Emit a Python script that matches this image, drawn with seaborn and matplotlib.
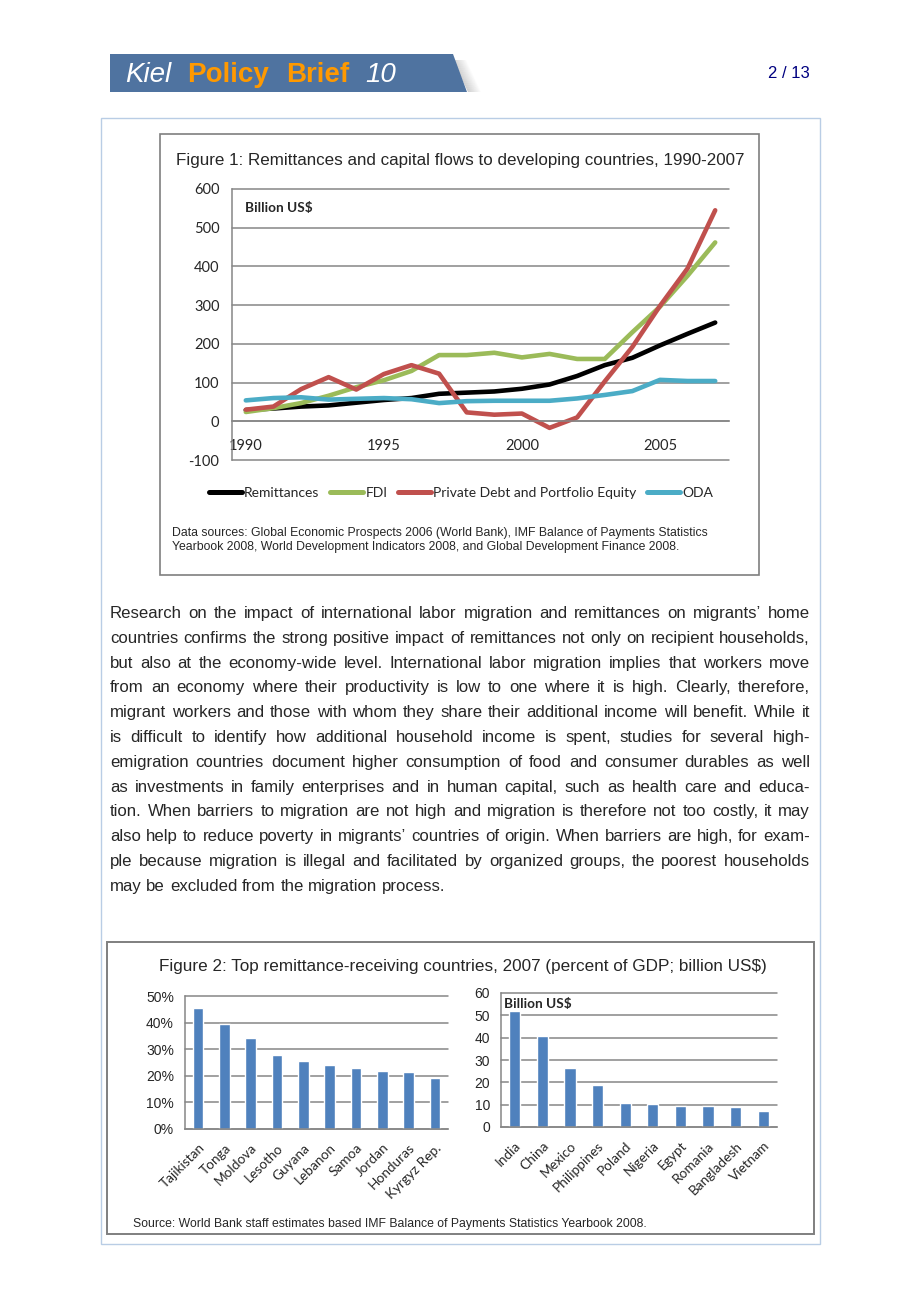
import numpy as np
import pandas as pd
import matplotlib
matplotlib.use("Agg")
import matplotlib.pyplot as plt
import seaborn as sns
from matplotlib.patches import Rectangle, Polygon
from matplotlib.lines import Line2D
from matplotlib.ticker import NullFormatter, FuncFormatter

# ---- data ----
years = list(range(1990, 2008))
series_names = ["Remittances", "FDI", "Private Debt and Portfolio Equity", "ODA"]
remittances = [29, 33, 38, 41, 48, 55, 60, 71, 74, 77, 84, 95, 117, 145, 164, 196, 226, 255]
fdi = [24, 34, 47, 66, 88, 106, 130, 171, 171, 177, 165, 174, 161, 161, 230, 296, 376, 462]
private_debt = [30, 38, 83, 114, 82, 122, 145, 123, 23, 17, 20, -17, 10, 103, 192, 298, 395, 545]
oda = [54, 60, 62, 56, 58, 60, 57, 47, 52, 53, 53, 53, 59, 68, 78, 107, 104, 104]
year_ticks = [1990, 1995, 2000, 2005]

countries_pct = ["Tajikistan", "Tonga", "Moldova", "Lesotho", "Guyana", "Lebanon",
                 "Samoa", "Jordan", "Honduras", "Kyrgyz Rep."]
pct_gdp = [45.5, 39.6, 34.1, 27.8, 25.7, 23.9, 22.9, 21.8, 21.4, 19.1]
countries_bn = ["India", "China", "Mexico", "Philippines", "Poland", "Nigeria",
                "Egypt", "Romania", "Bangladesh", "Vietnam"]
billion_usd = [52.0, 40.6, 26.3, 18.6, 10.9, 10.1, 9.4, 9.4, 9.1, 7.2]

paragraph = [
    "Research on the impact of international labor migration and remittances on migrants\u2019 home",
    "countries confirms the strong positive impact of remittances not only on recipient households,",
    "but also at the economy-wide level. International labor migration implies that workers move",
    "from an economy where their productivity is low to one where it is high. Clearly, therefore,",
    "migrant workers and those with whom they share their additional income will benefit. While it",
    "is difficult to identify how additional household income is spent, studies for several high-",
    "emigration countries document higher consumption of food and consumer durables as well",
    "as investments in family enterprises and in human capital, such as health care and educa-",
    "tion. When barriers to migration are not high and migration is therefore not too costly, it may",
    "also help to reduce poverty in migrants\u2019 countries of origin. When barriers are high, for exam-",
    "ple because migration is illegal and facilitated by organized groups, the poorest households",
    "may be excluded from the migration process.",
]

line_colors = ["#000000", "#9BBB59", "#C0504D", "#4BACC6"]
bar_color = "#4F81BD"
axis_gray = "#868686"

W, H = 920, 1302
sns.set_style("white")
plt.rcParams["font.family"] = ["Liberation Sans", "DejaVu Sans"]
plt.rcParams["axes.unicode_minus"] = False

fig = plt.figure(figsize=(W / 100, H / 100), dpi=100)
bg = fig.add_axes([0, 0, 1, 1])
bg.set_xlim(0, W)
bg.set_ylim(H, 0)
bg.axis("off")


def px_axes(x0, y0, x1, y1):
    a = fig.add_axes([x0 / W, 1 - y1 / H, (x1 - x0) / W, (y1 - y0) / H])
    a.patch.set_alpha(0)
    return a


def frame(x0, y0, x1, y1, color, lw):
    bg.add_patch(Rectangle((x0, y0), x1 - x0, y1 - y0, fill=False, ec=color, lw=lw))


# ---- page furniture ----
frame(101, 118, 820, 1244, "#B9CDE5", 1.0)
frame(160, 134, 759, 575, "#7F7F7F", 1.2)
frame(107, 942, 814, 1234, "#7F7F7F", 1.4)

# header banner with soft shadow on the slanted edge
for k in range(1, 14):
    bg.add_patch(Polygon([(452 + k, 60), (453 + k, 60), (468 + k, 92), (467 + k, 92)],
                         fc="#555555", ec="none", alpha=0.3 * (1 - k / 14)))
bg.add_patch(Polygon([(110, 54), (453, 54), (467, 92), (110, 92)], fc="#4F73A0", ec="none"))
bg.text(125, 82, "Kiel", color="white", fontsize=20, style="italic", va="baseline")
bg.text(187, 82, "Policy", color="#FF9900", fontsize=20, weight="bold", va="baseline")
bg.text(286, 82, "Brief", color="#FF9900", fontsize=20, weight="bold", va="baseline")
bg.text(365, 82, "10", color="white", fontsize=20, style="italic", va="baseline")
bg.text(810, 74, "2 / 13", color="#000080", fontsize=12, ha="right", va="center")

# ---- Figure 1 ----
bg.text(176, 160, "Figure 1: Remittances and capital flows to developing countries, 1990-2007",
        fontsize=12.25, va="center")

ax1 = px_axes(232, 189, 729, 460)
df1 = pd.DataFrame({
    "year": years * 4,
    "series": np.repeat(series_names, len(years)),
    "value": remittances + fdi + private_debt + oda,
})
sns.lineplot(data=df1, x="year", y="value", hue="series", hue_order=series_names,
             palette=dict(zip(series_names, line_colors)), linewidth=3.3,
             ax=ax1, legend=False, solid_capstyle="round", solid_joinstyle="round")
ax1.set_xlim(1989.5, 2007.5)
ax1.set_ylim(-100, 600)
ax1.set_yticks(range(-100, 601, 100))
ax1.set_xticks(np.arange(1989.5, 2008, 1))
ax1.xaxis.set_major_formatter(NullFormatter())
ax1.set_xticks(year_ticks, minor=True)
ax1.set_xticklabels([str(y) for y in year_ticks], minor=True)
ax1.tick_params(axis="x", which="major", direction="out", length=4, width=1.1, color=axis_gray)
ax1.tick_params(axis="x", which="minor", length=0, pad=13, labelsize=10.5, labelfontfamily="Lato")
ax1.tick_params(axis="y", direction="out", length=4, width=1.1, color=axis_gray, pad=5,
                labelsize=10.5, labelfontfamily="Lato")
ax1.grid(axis="y", color=axis_gray, lw=1.1)
for gl in ax1.get_ygridlines():
    gl.set_clip_on(False)
ax1.set_axisbelow(True)
ax1.spines["top"].set_visible(False)
ax1.spines["right"].set_visible(False)
ax1.spines["bottom"].set_position(("data", 0))
for s in ("left", "bottom"):
    ax1.spines[s].set_color(axis_gray)
    ax1.spines[s].set_linewidth(1.1)
ax1.set_xlabel("")
ax1.set_ylabel("")
bg.text(245, 208, "Billion US$", family="Lato", weight="bold", fontsize=9.8, va="center")

handles = [Line2D([], [], color=c, lw=3.6, solid_capstyle="round") for c in line_colors]
ax1.legend(handles, series_names, loc="center", bbox_to_anchor=(461 / W, 1 - 493 / H),
           bbox_transform=fig.transFigure, ncol=4, frameon=False, handlelength=2.4,
           handletextpad=0.15, columnspacing=0.75, prop={"family": "Lato", "size": 10})

bg.text(172, 533, "Data sources: Global Economic Prospects 2006 (World Bank), IMF Balance of Payments Statistics",
        fontsize=8.85, va="center")
bg.text(172, 547, "Yearbook 2008, World Development Indicators 2008, and Global Development Finance 2008.",
        fontsize=8.85, va="center")

# ---- justified paragraph ----
renderer = fig.canvas.get_renderer()
left, right = 110, 810
size = 12.6
for _ in range(4):
    widths = []
    for line in paragraph:
        t = bg.text(0, 0, line, fontsize=size)
        widths.append(t.get_window_extent(renderer).width)
        t.remove()
    if max(widths[:-1]) <= right - left - 4:
        break
    size *= (right - left - 4) / max(widths[:-1])

for i, line in enumerate(paragraph):
    y = 618 + 24.8 * i
    words = line.split(" ")
    texts = [bg.text(0, y, w, fontsize=size, va="baseline") for w in words]
    ws = [t.get_window_extent(renderer).width for t in texts]
    if i < len(paragraph) - 1:
        gap = (right - left - sum(ws)) / (len(words) - 1)
    else:
        gap = 0.278 * size * 100 / 72
    x = left
    for t, w in zip(texts, ws):
        t.set_x(x)
        x += w + gap

# ---- Figure 2 ----
bg.text(159, 967, "Figure 2: Top remittance-receiving countries, 2007 (percent of GDP; billion US$)",
        fontsize=12.3, va="center")


def style_bar_axes(ax, labels, top, step):
    ax.set_ylim(0, top)
    ax.set_yticks(np.arange(0, top + 1, step))
    ax.set_xlim(-0.5, len(labels) - 0.5)
    ax.set_xticks(np.arange(-0.5, len(labels), 1))
    ax.xaxis.set_major_formatter(NullFormatter())
    ax.set_xticks(range(len(labels)), minor=True)
    ax.set_xticklabels(labels, minor=True, rotation=45, ha="right", va="top",
                       rotation_mode="anchor")
    ax.tick_params(axis="x", which="major", direction="out", length=4, width=1.1, color=axis_gray)
    ax.tick_params(axis="x", which="minor", length=0, pad=9, labelsize=9.8, labelfontfamily="Lato")
    ax.tick_params(axis="y", direction="out", length=4, width=1.1, color=axis_gray, pad=4,
                   labelsize=10)
    ax.grid(axis="y", color=axis_gray, lw=1.1)
    for gl in ax.get_ygridlines():
        gl.set_clip_on(False)
    ax.set_axisbelow(True)
    ax.spines["top"].set_visible(False)
    ax.spines["right"].set_visible(False)
    for s in ("left", "bottom"):
        ax.spines[s].set_color(axis_gray)
        ax.spines[s].set_linewidth(1.1)
    ax.set_xlabel("")
    ax.set_ylabel("")


ax2 = px_axes(185, 996, 448, 1129)
sns.barplot(x=countries_pct, y=pct_gdp, color=bar_color, saturation=1, width=0.4, ax=ax2)
style_bar_axes(ax2, countries_pct, 50, 10)
ax2.yaxis.set_major_formatter(FuncFormatter(lambda v, p: f"{v:.0f}%"))

ax3 = px_axes(501, 993, 777, 1127)
sns.barplot(x=countries_bn, y=billion_usd, color=bar_color, saturation=1, width=0.4, ax=ax3)
style_bar_axes(ax3, countries_bn, 60, 10)
bg.text(504, 1004, "Billion US$", family="Lato", weight="bold", fontsize=9.8, va="center")

bg.text(133, 1224, "Source: World Bank staff estimates based IMF Balance of Payments Statistics Yearbook 2008.",
        fontsize=8.85, va="center")

fig.savefig("out.png", dpi=100)
